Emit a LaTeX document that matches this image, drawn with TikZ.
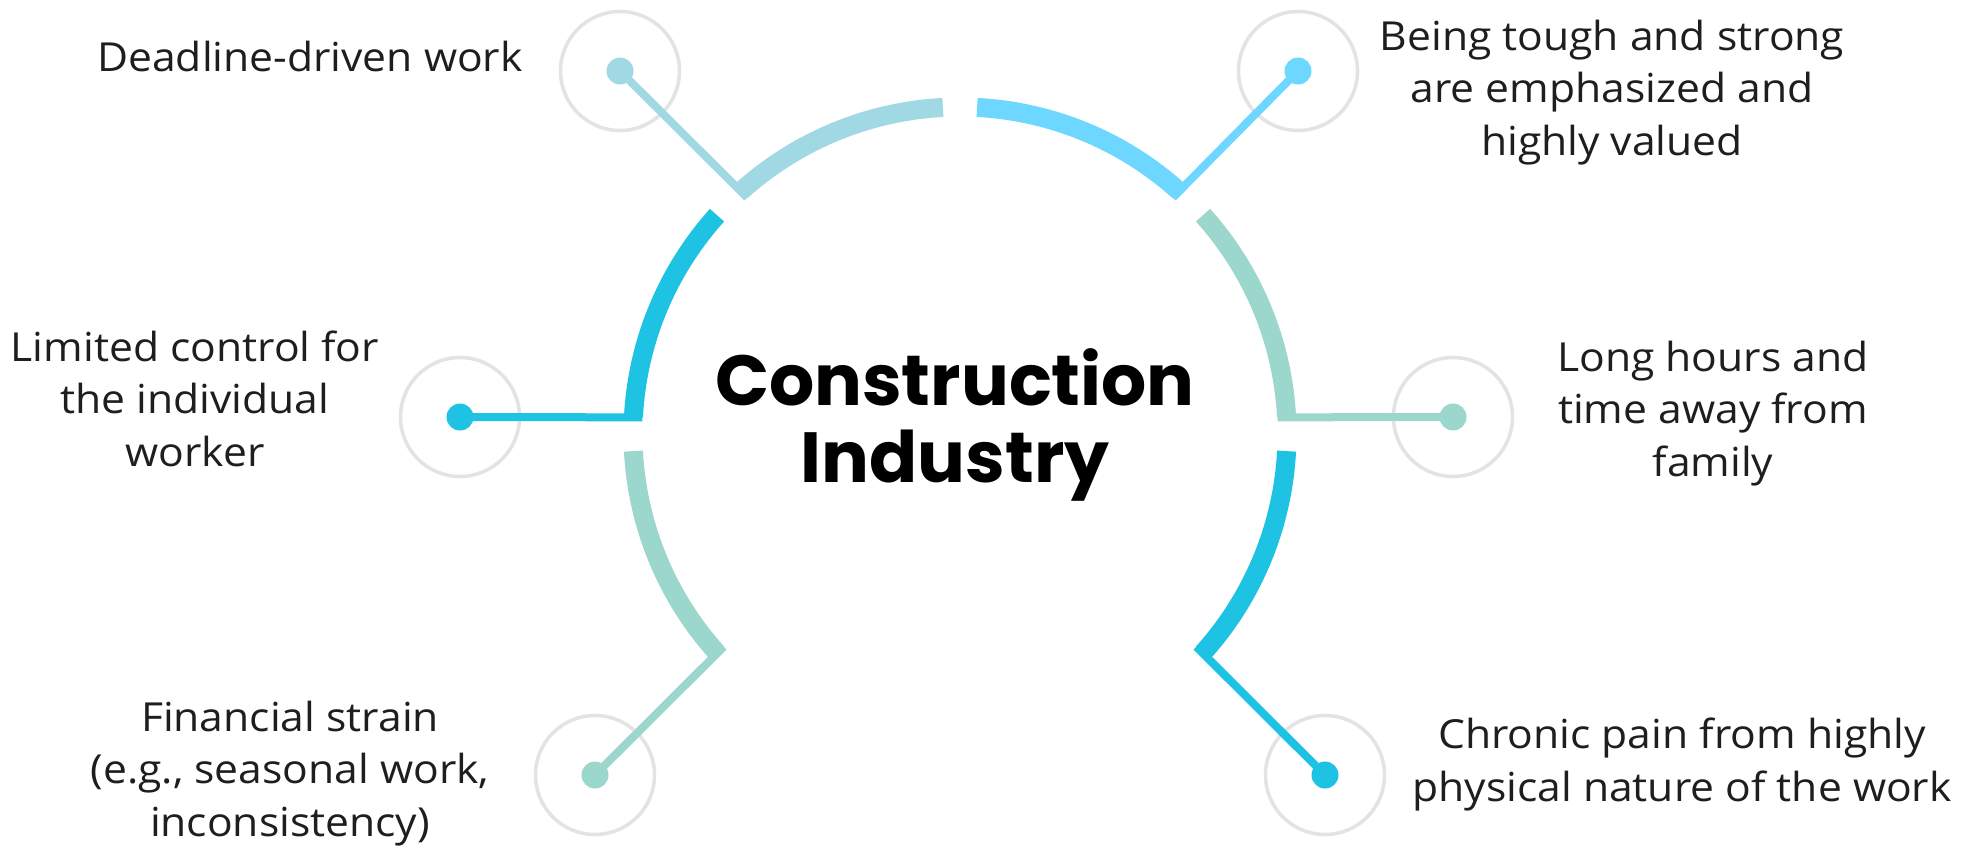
\documentclass[tikz,border=0pt]{standalone}
\usepackage{fontspec}
\setmainfont{Open Sans}[FakeStretch=1.065]
\newfontfamily\titlefont{Poppins}
\usetikzlibrary{calc}
\definecolor{cA}{HTML}{A0D8E3}
\definecolor{cB}{HTML}{6DD7FF}
\definecolor{cC}{HTML}{9CD7CD}
\definecolor{cD}{HTML}{1EC2E3}
\definecolor{ringgray}{HTML}{E3E3E3}
\definecolor{txt}{HTML}{1E1E1E}
\begin{document}
\begin{tikzpicture}[x=1pt,y=1pt,
  arcline/.style={line width=19pt, line cap=butt},
  conn/.style={line width=8pt, line cap=butt},
  ring/.style={circle, draw=ringgray, line width=3.5pt, minimum size=119pt, inner sep=0pt},
  dotnode/.style={circle, fill=#1, minimum size=27pt, inner sep=0pt},
  label/.style={align=center, anchor=base, inner sep=0pt, text=txt, font=\fontsize{40}{52.5}\selectfont},
  title/.style={align=center, anchor=base, inner sep=0pt, text=black, font=\titlefont\bfseries\fontsize{71}{77}\selectfont}]
\useasboundingbox (0,0) rectangle (1972,-851);
\fill[white] (0,0) rectangle (1972,-851);
\coordinate (C) at (960,-434);
% rings
\node[ring] (r1) at (620,-71) {};
\node[ring] (r2) at (1298,-71) {};
\node[ring] (r3) at (460,-417) {};
\node[ring] (r4) at (1453,-417) {};
\node[ring] (r5) at (595,-775) {};
\node[ring] (r6) at (1325,-775) {};
% arcs
\draw[arcline, cA] ($(C)+(93:327)$) arc[start angle=93, end angle=132, radius=327];
\draw[arcline, cB] ($(C)+(87:327)$) arc[start angle=87, end angle=48, radius=327];
\draw[arcline, cD] ($(C)+(138:327)$) arc[start angle=138, end angle=177, radius=327];
\draw[arcline, cC] ($(C)+(42:327)$) arc[start angle=42, end angle=3, radius=327];
\draw[arcline, cC] ($(C)+(183:327)$) arc[start angle=183, end angle=222, radius=327];
\draw[arcline, cD] ($(C)+(-3:327)$) arc[start angle=-3, end angle=-42, radius=327];
% corners
\coordinate (k1) at ($(C)+(132:318)$);
\coordinate (k2) at ($(C)+(48:318)$);
\coordinate (k3) at ($(C)+(177:318)$);
\coordinate (k4) at ($(C)+(3:318)$);
\coordinate (k5) at ($(C)+(222:318)$);
\coordinate (k6) at ($(C)+(-42:318)$);
% dots
\node[dotnode=cA] (d1) at (r1.center) {};
\node[dotnode=cB] (d2) at (r2.center) {};
\node[dotnode=cD] (d3) at (r3.center) {};
\node[dotnode=cC] (d4) at (r4.center) {};
\node[dotnode=cC] (d5) at (r5.center) {};
\node[dotnode=cD] (d6) at (r6.center) {};
% connectors
\draw[conn, cA] (d1.center) -- (k1);
\draw[conn, cB] (d2.center) -- (k2);
\draw[conn, cD] (d3.center) -- (k3);
\draw[conn, cC] (d4.center) -- (k4);
\draw[conn, cC] (d5.center) -- (k5);
\draw[conn, cD] (d6.center) -- (k6);
% texts (anchor base = baseline of the last line)
\node[title] (t) at (955,-482) {Construction\\Industry};
\node[label] (l1) at (310,-71) {Deadline-driven work};
\node[label] (l2) at (1612,-155) {Being tough and strong\\are emphasized and\\highly valued};
\node[label] (l3) at (195,-466) {Limited control for\\the individual\\worker};
\node[label] (l4) at (1713,-476) {Long hours and\\time away from\\family};
\node[label] (l5) at (290,-836) {Financial strain\\(e.g., seasonal work,\\inconsistency)};
\node[label] (l6) at (1682,-801) {Chronic pain from highly\\physical nature of the work};
\end{tikzpicture}
\end{document}
